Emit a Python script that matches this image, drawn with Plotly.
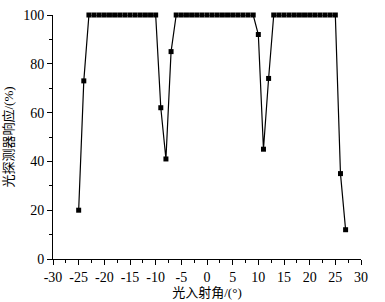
import plotly.graph_objects as go

angles = [-25, -24, -23, -22, -21, -20, -19, -18, -17, -16, -15, -14, -13, -12, -11, -10,
          -9, -8, -7, -6, -5, -4, -3, -2, -1, 0, 1, 2, 3, 4, 5, 6, 7, 8, 9,
          10, 11, 12, 13, 14, 15, 16, 17, 18, 19, 20, 21, 22, 23, 24, 25, 26, 27]
response = [20, 73, 100, 100, 100, 100, 100, 100, 100, 100, 100, 100, 100, 100, 100, 100,
            62, 41, 85, 100, 100, 100, 100, 100, 100, 100, 100, 100, 100, 100, 100, 100, 100, 100, 100,
            92, 45, 74, 100, 100, 100, 100, 100, 100, 100, 100, 100, 100, 100, 100, 100, 35, 12]

x_ticks = [-30, -25, -20, -15, -10, -5, 0, 5, 10, 15, 20, 25, 30]
y_ticks = [0, 20, 40, 60, 80, 100]

font_fam = "Liberation Serif, Noto Sans CJK SC, serif"

fig = go.Figure(go.Scatter(
    x=angles, y=response, mode="lines+markers",
    line=dict(color="black", width=1.2),
    marker=dict(symbol="square", size=5, color="black"),
    cliponaxis=False,
))

axis_common = dict(
    showline=True, linecolor="black", linewidth=1, mirror=False,
    ticks="outside", ticklen=5, tickwidth=1, tickcolor="black",
    showgrid=False, zeroline=False, automargin=False,
    tickfont=dict(family=font_fam, size=14, color="black"),
)

fig.update_layout(
    width=385, height=302,
    margin=dict(l=53, r=24, t=15, b=43),
    paper_bgcolor="white", plot_bgcolor="white",
    showlegend=False,
    font=dict(family=font_fam),
    xaxis=dict(range=[-30, 30], tickvals=x_ticks, ticktext=[str(v) for v in x_ticks],
               minor=dict(ticks="outside", ticklen=3, tickcolor="black", dtick=2.5, tick0=-30, showgrid=False),
               title=dict(text="光入射角/(°)", font=dict(family=font_fam, size=13, color="black"), standoff=2),
               **axis_common),
    yaxis=dict(range=[0, 100], tickvals=y_ticks, ticktext=[str(v) for v in y_ticks],
               minor=dict(ticks="outside", ticklen=3, tickcolor="black", dtick=10, tick0=0, showgrid=False),
               title=dict(text="光探测器响应/(%)", font=dict(family=font_fam, size=13, color="black"), standoff=6),
               **axis_common),
)

fig.write_html("out.html", config={"displayModeBar": False},
               post_script="document.body.style.margin='0';document.body.style.overflow='hidden';")
